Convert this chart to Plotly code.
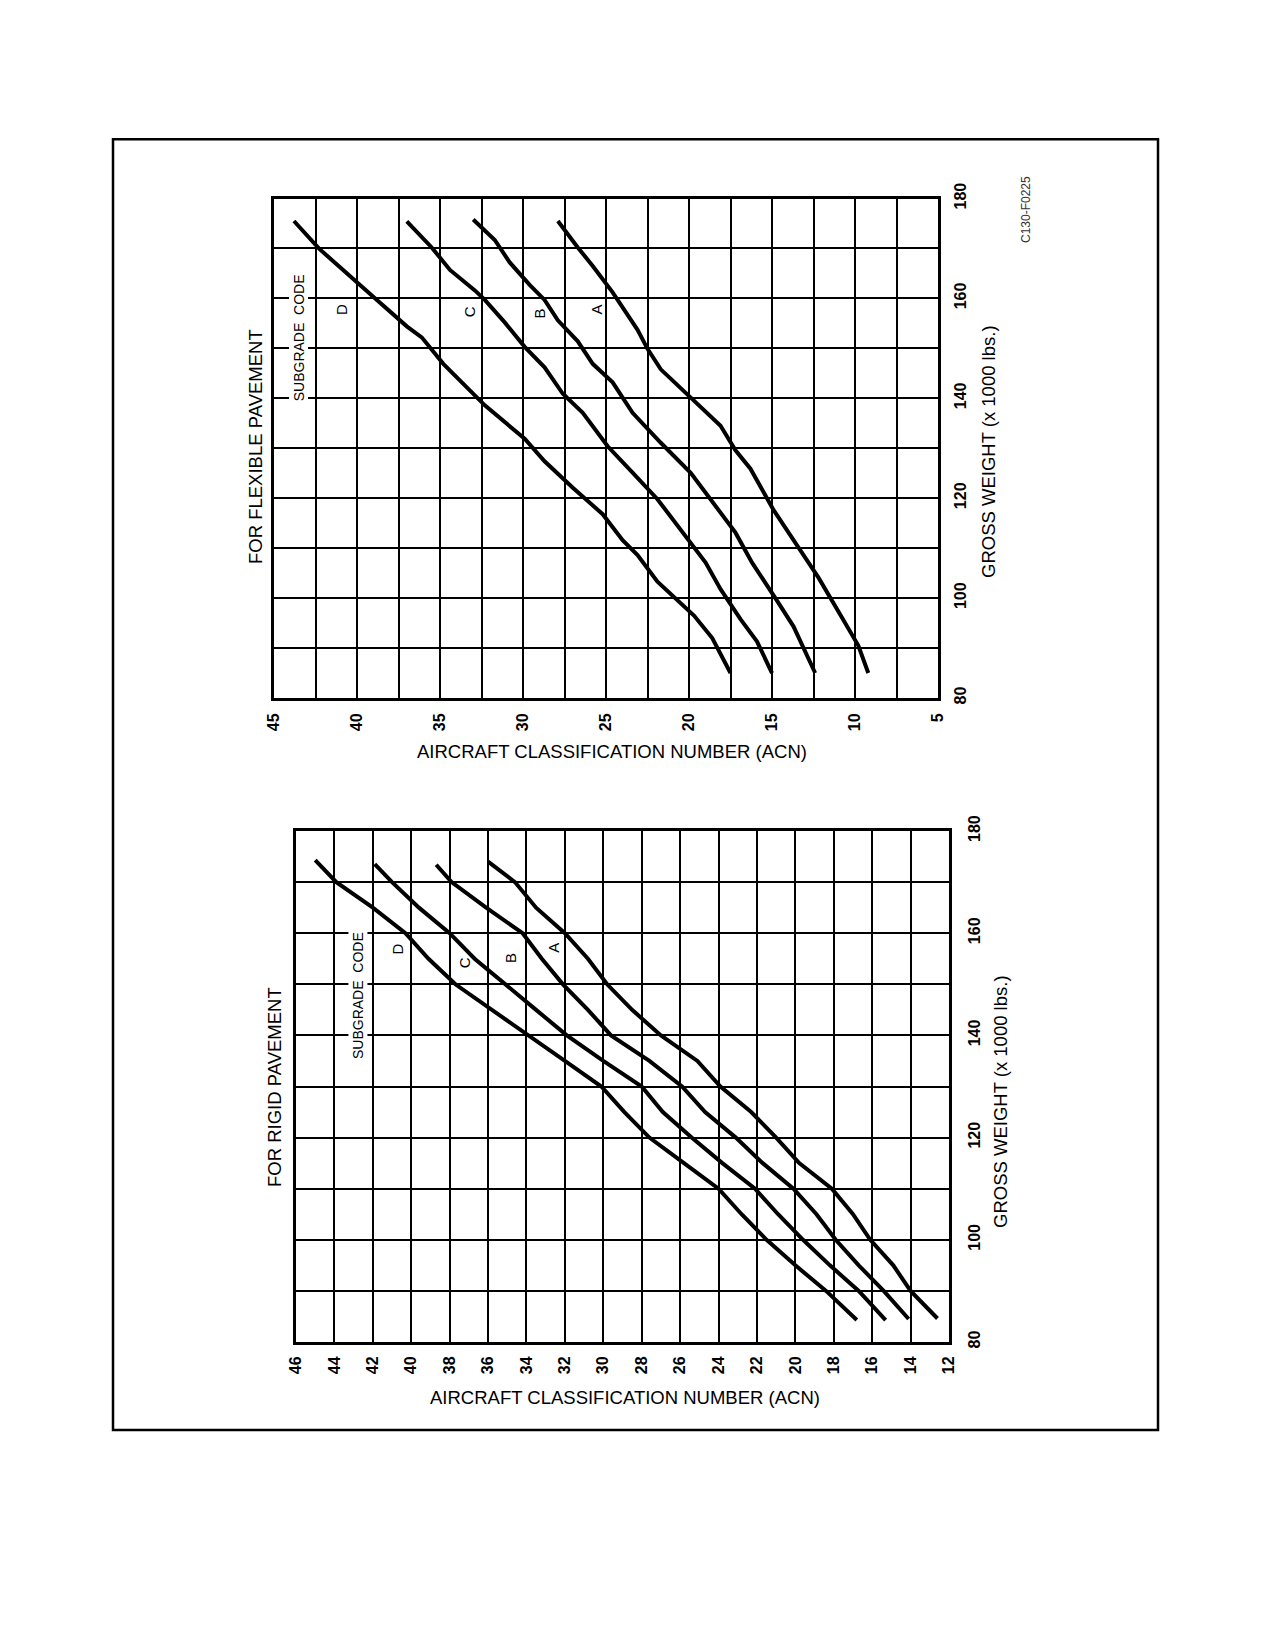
import plotly.graph_objects as go

# page is drawn turned on its side: ACN runs across, gross weight runs up
W, H = 1259, 1634   # figure size; body margin is removed so page px == figure px

# --- rigid pavement (ACN vs gross weight, x 1000 lbs) ---
rigid_a_gw = [84.6, 90, 95, 100, 105, 110, 115, 120, 125, 130, 135, 140, 145, 150, 155, 160, 165, 170, 174.0]
rigid_a_acn = [12.6, 14.0, 14.9, 16.1, 17.0, 18.1, 19.8, 21.0, 22.3, 23.9, 25.1, 27.0, 28.5, 29.8, 30.8, 32.0, 33.5, 34.6, 36.0]
rigid_b_gw = [84.5, 90, 95, 100, 105, 110, 115, 120, 125, 130, 135, 140, 145, 150, 155, 160, 165, 170, 173.4]
rigid_b_acn = [14.1, 15.4, 16.7, 17.9, 18.9, 20.1, 21.7, 23.1, 24.7, 25.9, 27.6, 29.6, 30.8, 32.1, 33.2, 34.2, 36.1, 37.9, 38.7]
rigid_c_gw = [84.3, 90, 95, 100, 105, 110, 115, 120, 125, 130, 135, 140, 145, 150, 155, 160, 165, 170, 173.5]
rigid_c_acn = [15.3, 16.7, 18.2, 19.6, 20.9, 22.1, 23.8, 25.4, 26.9, 28.0, 30.0, 31.9, 33.5, 35.1, 36.7, 38.0, 39.6, 41.0, 41.9]
rigid_d_gw = [84.3, 90, 95, 100, 105, 110, 115, 120, 125, 130, 135, 140, 145, 150, 155, 160, 165, 170, 174.3]
rigid_d_acn = [16.8, 18.4, 20.0, 21.5, 22.8, 24.0, 25.8, 27.6, 28.9, 30.1, 32.0, 33.9, 35.8, 37.7, 39.1, 40.3, 42.0, 43.9, 45.0]

# --- flexible pavement ---
flex_a_gw = [85.0, 90.5, 97.3, 104.1, 110.1, 117.6, 125.9, 129.6, 134.5, 140.2, 145.8, 149.9, 153.7, 158.2, 161.2, 166.5, 170.2, 175.5]
flex_a_acn = [9.2, 9.8, 11.0, 12.2, 13.4, 14.9, 16.3, 17.2, 18.1, 19.9, 21.7, 22.5, 23.1, 24.0, 24.6, 25.8, 26.7, 27.9]
flex_b_gw = [85.0, 94.3, 99.5, 107.1, 113.1, 119.8, 125.1, 131.1, 137.1, 143.2, 146.9, 151.4, 155.6, 159.7, 162.7, 167.2, 171.7, 175.8]
flex_b_acn = [12.4, 13.7, 14.7, 16.2, 17.2, 18.7, 19.9, 21.7, 23.4, 24.6, 25.8, 26.7, 27.9, 28.7, 29.6, 30.8, 31.7, 33.0]
flex_c_gw = [85.0, 91.3, 95.8, 101.8, 107.1, 113.8, 119.8, 125.1, 130.4, 137.1, 140.9, 146.2, 150.3, 155.2, 159.7, 161.6, 165.7, 170.2, 175.4]
flex_c_acn = [15.0, 15.9, 16.9, 18.1, 19.0, 20.5, 21.9, 23.4, 24.9, 26.4, 27.6, 28.7, 29.9, 31.1, 32.3, 32.9, 34.4, 35.5, 37.0]
flex_d_gw = [85.0, 92.0, 96.5, 103.3, 108.6, 111.6, 116.8, 122.1, 127.4, 131.9, 138.6, 146.9, 152.2, 154.4, 159.7, 165.0, 170.0, 175.5]
flex_d_acn = [17.5, 18.6, 19.7, 21.9, 23.1, 24.0, 25.2, 27.0, 28.7, 29.9, 32.3, 34.8, 36.1, 37.0, 38.8, 40.6, 42.3, 43.8]

# ticks
gw_ticks = [80, 90, 100, 110, 120, 130, 140, 150, 160, 170, 180]
gw_labels = ["80", "", "100", "", "120", "", "140", "", "160", "", "180"]
rigid_acn_ticks = [46, 44, 42, 40, 38, 36, 34, 32, 30, 28, 26, 24, 22, 20, 18, 16, 14, 12]
rigid_acn_labels = [str(v) for v in rigid_acn_ticks]
flex_acn_ticks = [45, 42.5, 40, 37.5, 35, 32.5, 30, 27.5, 25, 22.5, 20, 17.5, 15, 12.5, 10, 7.5, 5]
flex_acn_labels = ["45", "", "40", "", "35", "", "30", "", "25", "", "20", "", "15", "", "10", "", "5"]

codes = ["A", "B", "C", "D"]
rigid_code_acn = [32.6, 34.84, 37.26, 40.72]
rigid_code_gw = [157.2, 155.2, 154.3, 156.9]
flex_code_acn = [25.6, 29.0, 33.2, 40.9]
flex_code_gw = [157.8, 156.9, 157.4, 157.7]


def px(x):
    return x / W


def py(y):
    return 1 - y / H


FONT = "Liberation Sans, Arial, sans-serif"

fig = go.Figure()

rigid = [(rigid_a_gw, rigid_a_acn), (rigid_b_gw, rigid_b_acn), (rigid_c_gw, rigid_c_acn), (rigid_d_gw, rigid_d_acn)]
flex = [(flex_a_gw, flex_a_acn), (flex_b_gw, flex_b_acn), (flex_c_gw, flex_c_acn), (flex_d_gw, flex_d_acn)]

for code, (gw, acn) in zip(codes, rigid):
    fig.add_trace(go.Scatter(x=acn, y=gw, mode="lines", name="rigid " + code,
                             line=dict(color="black", width=4), xaxis="x", yaxis="y"))
for code, (gw, acn) in zip(codes, flex):
    fig.add_trace(go.Scatter(x=acn, y=gw, mode="lines", name="flexible " + code,
                             line=dict(color="black", width=4), xaxis="x2", yaxis="y2"))

axis_common = dict(showgrid=True, gridcolor="black", gridwidth=2, zeroline=False,
                   showline=True, linecolor="black", linewidth=3, mirror=True,
                   ticks="", tickangle=-90, automargin=False,
                   tickfont=dict(family=FONT, size=16, color="black", weight="bold"))

fig.update_layout(
    width=W, height=H, autosize=False,
    margin=dict(l=0, r=0, t=0, b=0, pad=0, autoexpand=False),
    paper_bgcolor="white", plot_bgcolor="white",
    showlegend=False, hovermode=False,
    xaxis=dict(axis_common, domain=[px(296), px(949)], range=[46, 12], anchor="y",
               tickmode="array", tickvals=rigid_acn_ticks, ticktext=rigid_acn_labels,
               ticklabelstandoff=5),
    yaxis=dict(axis_common, domain=[py(1342), py(831)], range=[80, 180], anchor="x", side="right",
               tickmode="array", tickvals=gw_ticks, ticktext=gw_labels, ticklabelstandoff=9),
    xaxis2=dict(axis_common, domain=[px(274), px(938)], range=[45, 5], anchor="y2",
                tickmode="array", tickvals=flex_acn_ticks, ticktext=flex_acn_labels,
                ticklabelstandoff=6),
    yaxis2=dict(axis_common, domain=[py(698), py(198.5)], range=[80, 180], anchor="x2", side="right",
                tickmode="array", tickvals=gw_ticks, ticktext=gw_labels, ticklabelstandoff=6),
)

title_font = dict(family=FONT, size=18.5, color="black")
small_font = dict(family=FONT, size=14, color="black")
code_font = dict(family=FONT, size=15, color="black")

notes = [
    ("FOR RIGID PAVEMENT", 274, 1087, -90),
    ("FOR FLEXIBLE PAVEMENT", 255, 447, -90),
    ("GROSS WEIGHT (x 1000 lbs.)", 1000, 1102, -90),
    ("GROSS WEIGHT (x 1000 lbs.)", 989, 452, -90),
    ("AIRCRAFT CLASSIFICATION NUMBER (ACN)", 625, 1397, 0),
    ("AIRCRAFT CLASSIFICATION NUMBER (ACN)", 612, 751, 0),
]
for text, x, y, ang in notes:
    fig.add_annotation(text=text, x=px(x), y=py(y), xref="paper", yref="paper",
                       xanchor="center", yanchor="middle",
                       showarrow=False, textangle=ang, font=title_font)

fig.add_annotation(text="C130-F0225", x=px(1026), y=py(210), xref="paper", yref="paper",
                   xanchor="center", yanchor="middle",
                   showarrow=False, textangle=-90, font=dict(family=FONT, size=12, color="#333333"))

# subgrade code labels
fig.add_annotation(text="SUBGRADE  CODE", x=42.8, y=147.8, xref="x", yref="y", showarrow=False,
                   textangle=-90, font=small_font, bgcolor="white")
fig.add_annotation(text="SUBGRADE  CODE", x=43.5, y=152.2, xref="x2", yref="y2", showarrow=False,
                   textangle=-90, font=small_font, bgcolor="white")
for code, a, g in zip(codes, rigid_code_acn, rigid_code_gw):
    fig.add_annotation(text=code, x=a, y=g, xref="x", yref="y", showarrow=False,
                       textangle=-90, font=code_font)
for code, a, g in zip(codes, flex_code_acn, flex_code_gw):
    fig.add_annotation(text=code, x=a, y=g, xref="x2", yref="y2", showarrow=False,
                       textangle=-90, font=code_font)

# page frame
fig.add_shape(type="rect", xref="paper", yref="paper",
              x0=px(113), x1=px(1158), y0=py(1430), y1=py(139.3),
              line=dict(color="black", width=2.5))

fig.write_html("out.html", config={"displayModeBar": False},
               post_script="document.body.style.margin = '0px';")
